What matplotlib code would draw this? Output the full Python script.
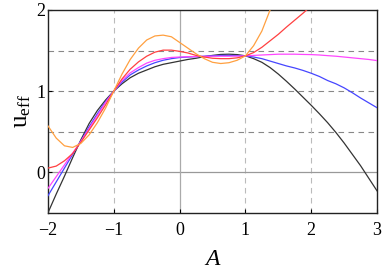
import matplotlib
matplotlib.use("Agg")
import matplotlib.pyplot as plt

plt.rcParams['mathtext.fontset'] = 'custom'
plt.rcParams['mathtext.rm'] = 'Liberation Serif'
plt.rcParams['mathtext.it'] = 'Liberation Serif:italic'
plt.rcParams['font.family'] = ['Liberation Serif', 'DejaVu Serif']

A = [-2.0, -1.875, -1.75, -1.625, -1.5, -1.375, -1.25, -1.125, -1.0,
     -0.875, -0.75, -0.625, -0.5, -0.375, -0.25, -0.125, 0.0,
     0.125, 0.25, 0.375, 0.5, 0.625, 0.75, 0.875, 1.0,
     1.125, 1.25, 1.375, 1.5, 1.625, 1.75, 1.875, 2.0,
     2.125, 2.25, 2.375, 2.5, 2.625, 2.75, 2.875, 3.0]

u_black = [-0.50, -0.27, -0.05, 0.18, 0.40, 0.60, 0.76, 0.89, 1.00,
           1.09, 1.165, 1.22, 1.26, 1.30, 1.33, 1.35, 1.37,
           1.39, 1.405, 1.425, 1.44, 1.452, 1.455, 1.45, 1.435,
           1.40, 1.355, 1.29, 1.21, 1.12, 1.025, 0.925, 0.825,
           0.72, 0.61, 0.49, 0.36, 0.22, 0.08, -0.075, -0.23]
u_blue = [-0.29, -0.12, 0.05, 0.22, 0.385, 0.56, 0.72, 0.87, 1.00,
          1.11, 1.20, 1.26, 1.31, 1.35, 1.38, 1.40, 1.414,
          1.42, 1.425, 1.43, 1.435, 1.44, 1.44, 1.438, 1.434,
          1.42, 1.40, 1.37, 1.34, 1.31, 1.285, 1.255, 1.22,
          1.18, 1.13, 1.09, 1.04, 0.98, 0.915, 0.855, 0.795]
u_magenta = [-0.20, -0.055, 0.09, 0.235, 0.38, 0.54, 0.70, 0.86, 1.00,
             1.13, 1.225, 1.29, 1.345, 1.38, 1.40, 1.415, 1.42,
             1.424, 1.426, 1.428, 1.43, 1.43, 1.43, 1.432, 1.434,
             1.44, 1.445, 1.45, 1.455, 1.455, 1.455, 1.452, 1.45,
             1.445, 1.437, 1.43, 1.42, 1.41, 1.40, 1.39, 1.376]
u_red = [0.05, 0.075, 0.14, 0.23, 0.37, 0.52, 0.67, 0.83, 1.00,
         1.15, 1.27, 1.36, 1.43, 1.48, 1.505, 1.505, 1.49,
         1.47, 1.44, 1.42, 1.405, 1.40, 1.40, 1.41, 1.434,
         1.475, 1.54, 1.62, 1.70, 1.79, 1.875, 1.96, 2.05,
         2.14, 2.23, 2.33, 2.43, 2.53, 2.63, 2.73, 2.83]
u_orange = [0.57, 0.42, 0.325, 0.305, 0.355, 0.46, 0.61, 0.79, 1.00,
            1.21, 1.39, 1.53, 1.63, 1.68, 1.69, 1.67, 1.60,
            1.53, 1.46, 1.40, 1.355, 1.34, 1.35, 1.38, 1.434,
            1.56, 1.74, 2.00, 2.30, 2.65, 3.0, 3.4, 3.8,
            4.2, 4.6, 5.0, 5.4, 5.8, 6.2, 6.6, 7.0]

series = [
    (u_black, '#333333'),
    (u_blue, '#4646ff'),
    (u_magenta, '#ff46ff'),
    (u_red, '#ff4040'),
    (u_orange, '#ffa040'),
]

xticks = [-2, -1, 0, 1, 2, 3]
xticklabels = ['\u22122', '\u22121', '0', '1', '2', '3']
yticks = [0, 1, 2]
yticklabels = ['0', '1', '2']

fig = plt.figure(figsize=(3.82, 2.72), dpi=100)
ax = fig.add_axes([48/382, 1-212.7/272, (377-48)/382, (212.7-10)/272])

for yv in [0.5, 1.0, 1.5]:
    ax.axhline(yv, color='#888888', lw=0.8, ls=(0, (5, 4)), zorder=1)
for xv in [-1, 1, 2]:
    ax.axvline(xv, color='#bbbbbb', lw=0.8, ls=(0, (5, 4)), zorder=1)
ax.axhline(0, color='#999999', lw=0.9, zorder=1)
ax.axvline(0, color='#aaaaaa', lw=0.9, zorder=1)

for ys, c in series:
    ax.plot(A, ys, color=c, lw=0.9, zorder=3)

ax.set_xlim(-2, 3)
ax.set_ylim(-0.5, 2)
ax.set_xticks(xticks)
ax.set_xticklabels(xticklabels)
ax.set_yticks(yticks)
ax.set_yticklabels(yticklabels)
ax.tick_params(direction='in', length=3, width=0.8, labelsize=13)
ax.tick_params(axis='x', pad=7)
ax.tick_params(axis='y', pad=2)
for s in ax.spines.values():
    s.set_linewidth(1.0)
    s.set_color('#222222')

ax.set_xlabel(r'$A$', fontsize=17, labelpad=7)
ax.set_ylabel(r'$\mathrm{u}_{\mathrm{eff}}$', fontsize=18, labelpad=2)

fig.savefig('out.png', dpi=100)
